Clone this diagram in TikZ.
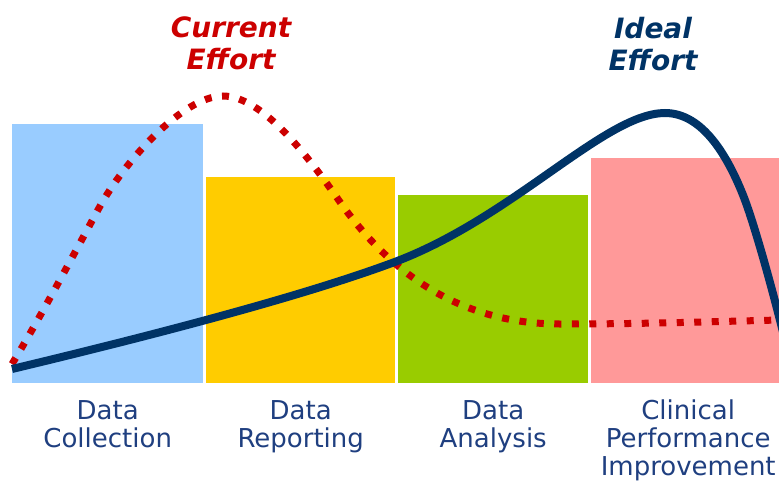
\documentclass[tikz,border=0pt]{standalone}
\usepackage{fontspec}
\setmainfont{DejaVu Sans}
\usetikzlibrary{positioning}

\definecolor{collblue}{HTML}{99CCFF}
\definecolor{repyellow}{HTML}{FFCC00}
\definecolor{anagreen}{HTML}{99CC00}
\definecolor{impink}{HTML}{FF9999}
\definecolor{navy}{HTML}{003366}
\definecolor{effred}{HTML}{CC0000}
\definecolor{labelblue}{HTML}{1F3F80}

\begin{document}
\begin{tikzpicture}[x=1pt, y=-1pt,
    phase/.style ={draw=none, inner sep=0, anchor=south west, minimum height=#1},
    phaselabel/.style ={inner sep=0, align=center, text=labelblue,
      font=\fontsize{26}{28}\selectfont},
    effort/.style ={inner sep=0, align=center, anchor=north,
      font=\fontsize{28}{32}\selectfont\bfseries\itshape},
    current/.style ={effred, line width=7pt, dash pattern=on 7pt off 10.5pt},
    ideal/.style ={navy, line width=8pt}]
   \clip (0,0) rectangle (779,482);
   \useasboundingbox (0,0) rectangle (779,482);
   \node[phase=259pt, fill=collblue, minimum width=191pt] (collection) at (12,383) {};
   \node[phase=206pt, fill=repyellow, minimum width=189pt] (reporting) at (206,383) {};
   \node[phase=188pt, fill=anagreen, minimum width=190pt] (analysis) at (398,383) {};
   \node[phase=225pt, fill=impink, minimum width=188pt] (improvement) at (591,383) {};
   \node[phaselabel, below=17pt of collection] (collectionlabel) {Data\\Collection};
   \node[phaselabel, below=17pt of reporting] (reportinglabel) {Data\\Reporting};
   \node[phaselabel, below=17pt of analysis] (analysislabel) {Data\\Analysis};
   \node[phaselabel, below=17pt of improvement, xshift=3pt] (improvementlabel) {Clinical\\Performance\\Improvement};
   \node[effort, text=effred] (currenttitle) at (231,17) {Current\\Effort};
   \node[effort, text=navy] (idealtitle) at (653,17) {Ideal\\Effort};
   % current effort
   \draw[current] (12,364) .. controls (40,318) and (75,252) .. (99,208)
     .. controls (124,162) and (183,96) .. (223,96)
     .. controls (263,96) and (310,159) .. (340,202)
     .. controls (390,273) and (460,324) .. (560,324)
     .. controls (640,324) and (700,322) .. (779,320);
   % ideal effort
   \draw[ideal] (12,369) .. controls (150,336) and (300,297) .. (392,263)
     .. controls (512,219) and (605,113) .. (665,113)
     .. controls (700,113) and (725,150) .. (743,195)
     .. controls (753,220) and (770,280) .. (785,340);
 \end{tikzpicture}
\end{document}
